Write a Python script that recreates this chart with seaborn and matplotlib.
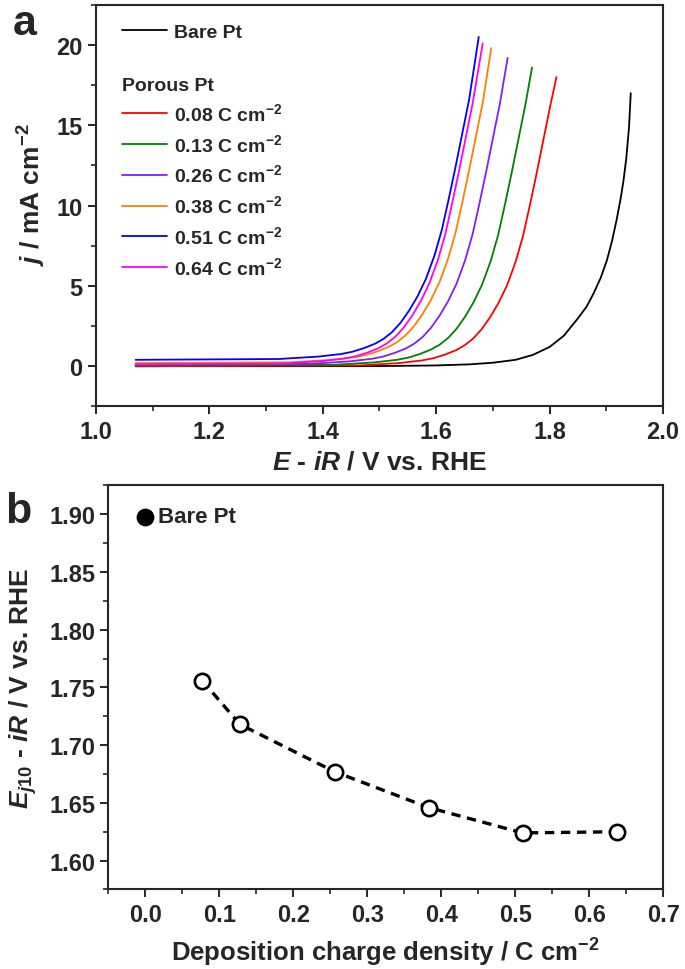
import numpy as np
import pandas as pd
import matplotlib
matplotlib.use("Agg")
import matplotlib.pyplot as plt
from matplotlib.lines import Line2D
from matplotlib.ticker import MultipleLocator, FormatStrFormatter
import seaborn as sns

# --- panel a: polarisation curves ---
e_bare = [1.07, 1.50, 1.60, 1.66, 1.70, 1.74, 1.77, 1.80, 1.825, 1.848, 1.865, 1.877,
          1.890, 1.901, 1.910, 1.918, 1.925, 1.930, 1.935, 1.940, 1.943]
j_bare = [0.0, 0.01, 0.05, 0.12, 0.22, 0.4, 0.7, 1.2, 1.9, 2.9, 3.7, 4.5,
          5.5, 6.6, 7.8, 9.1, 10.4, 11.5, 12.9, 14.9, 17.0]

e_008 = [1.07, 1.465, 1.535, 1.575, 1.595, 1.615, 1.635, 1.650, 1.665, 1.680, 1.695,
         1.710, 1.725, 1.740, 1.753, 1.765, 1.777, 1.789, 1.801, 1.812]
j_008 = [0.0, 0.05, 0.20, 0.36, 0.50, 0.72, 1.00, 1.30, 1.72, 2.30, 3.05,
         3.95, 5.05, 6.50, 8.10, 10.0, 12.0, 14.1, 16.2, 18.0]

e_013 = [1.07, 1.421, 1.491, 1.531, 1.551, 1.571, 1.591, 1.606, 1.621, 1.636, 1.651,
         1.666, 1.681, 1.696, 1.709, 1.721, 1.733, 1.745, 1.757, 1.769]
j_013 = [0.04, 0.09, 0.24, 0.40, 0.54, 0.76, 1.04, 1.34, 1.76, 2.34, 3.09,
         3.99, 5.09, 6.54, 8.14, 10.04, 12.04, 14.14, 16.24, 18.6]

e_026 = [1.07, 1.376, 1.446, 1.486, 1.506, 1.526, 1.546, 1.561, 1.576, 1.591, 1.606,
         1.621, 1.636, 1.651, 1.664, 1.676, 1.688, 1.700, 1.712, 1.726]
j_026 = [0.1, 0.15, 0.30, 0.46, 0.60, 0.82, 1.10, 1.40, 1.82, 2.40, 3.15,
         4.05, 5.15, 6.60, 8.20, 10.1, 12.1, 14.2, 16.3, 19.2]

e_038 = [1.07, 1.346, 1.416, 1.456, 1.476, 1.496, 1.516, 1.531, 1.546, 1.561, 1.576,
         1.591, 1.606, 1.621, 1.634, 1.646, 1.658, 1.670, 1.682, 1.697]
j_038 = [0.2, 0.25, 0.40, 0.56, 0.70, 0.92, 1.20, 1.50, 1.92, 2.50, 3.25,
         4.15, 5.25, 6.70, 8.30, 10.2, 12.2, 14.3, 16.4, 19.8]

e_051 = [1.07, 1.322, 1.392, 1.432, 1.452, 1.472, 1.492, 1.507, 1.522, 1.537, 1.552,
         1.567, 1.582, 1.597, 1.610, 1.622, 1.634, 1.646, 1.658, 1.675]
j_051 = [0.4, 0.45, 0.60, 0.76, 0.90, 1.12, 1.40, 1.70, 2.12, 2.70, 3.45,
         4.35, 5.45, 6.90, 8.50, 10.4, 12.4, 14.5, 16.6, 20.5]

e_064 = [1.07, 1.328, 1.398, 1.438, 1.458, 1.478, 1.498, 1.513, 1.528, 1.543, 1.558,
         1.573, 1.588, 1.603, 1.616, 1.628, 1.640, 1.652, 1.664, 1.682]
j_064 = [0.12, 0.17, 0.32, 0.48, 0.62, 0.84, 1.12, 1.42, 1.84, 2.42, 3.17,
         4.07, 5.17, 6.62, 8.22, 10.12, 12.12, 14.22, 16.32, 20.1]

porous_labels = ["0.08", "0.13", "0.26", "0.38", "0.51", "0.64"]
porous_colors = ["#ff0000", "#008000", "#7f1fff", "#ff8000", "#0000ff", "#ff00ff"]

# --- panel b: E at 10 mA cm-2 ---
charge = [0.077, 0.128, 0.256, 0.383, 0.510, 0.638]
e_j10 = [1.756, 1.718, 1.677, 1.646, 1.624, 1.625]
bare_charge = [0.0]
bare_e_j10 = [1.898]

sns.set_style("ticks")
plt.rcParams["font.family"] = ["Liberation Sans", "DejaVu Sans"]
plt.rcParams["font.weight"] = "bold"
plt.rcParams["mathtext.fontset"] = "custom"
plt.rcParams["mathtext.rm"] = "Liberation Sans:bold"
plt.rcParams["mathtext.bf"] = "Liberation Sans:bold"
plt.rcParams["mathtext.it"] = "Liberation Sans:italic:bold"
plt.rcParams["axes.linewidth"] = 1.5

curves = [("Bare Pt", e_bare, j_bare)]
for lab, e, j in zip(porous_labels, [e_008, e_013, e_026, e_038, e_051, e_064],
                     [j_008, j_013, j_026, j_038, j_051, j_064]):
    curves.append((lab, e, j))
df = pd.concat([pd.DataFrame({"E": e, "j": j, "sample": s}) for s, e, j in curves],
               ignore_index=True)
palette = dict(zip(["Bare Pt"] + porous_labels, ["black"] + porous_colors))

fig = plt.figure(figsize=(6.85, 9.7), dpi=100)
ax1 = fig.add_axes([0.140, 0.580, 0.828, 0.414])
ax2 = fig.add_axes([0.158, 0.082, 0.810, 0.4165])

sns.lineplot(data=df, x="E", y="j", hue="sample", palette=palette, sort=False,
             estimator=None, linewidth=1.3, legend=False, ax=ax1)
ax1.set_xlim(1.0, 2.0)
ax1.set_ylim(-2.5, 22.5)
ax1.xaxis.set_major_locator(MultipleLocator(0.2))
ax1.xaxis.set_minor_locator(MultipleLocator(0.1))
ax1.yaxis.set_major_locator(MultipleLocator(5))
ax1.yaxis.set_minor_locator(MultipleLocator(2.5))
ax1.set_xlabel("$E$ - $iR$ / V vs. RHE", fontsize=19, fontweight="bold", labelpad=5)
ax1.set_ylabel("$j$ / mA cm$^{-2}$", fontsize=19, fontweight="bold")
ax1.yaxis.set_label_coords(-0.085, 0.53)

legend_font = {"size": 14, "weight": "bold"}
h_bare = [Line2D([], [], color="black", lw=1.3)]
leg1 = ax1.legend(h_bare, ["Bare Pt"], loc="upper left", bbox_to_anchor=(0.046, 0.955),
                  frameon=False, borderpad=0, borderaxespad=0, handlelength=2.3,
                  handletextpad=0.4, prop=legend_font)
ax1.add_artist(leg1)
ax1.text(0.046, 0.800, "Porous Pt", transform=ax1.transAxes, fontsize=14,
         fontweight="bold", va="center", ha="left")
h_por = [Line2D([], [], color=c, lw=1.3) for c in porous_colors]
leg2 = ax1.legend(h_por, [f"{l} C cm$^{{-2}}$" for l in porous_labels], loc="upper left",
                  bbox_to_anchor=(0.046, 0.758), frameon=False, borderpad=0,
                  borderaxespad=0, handlelength=2.3, handletextpad=0.4, labelspacing=0.46,
                  prop=legend_font)

sns.lineplot(x=charge, y=e_j10, ax=ax2, color="black", linestyle=(0, (2.8, 2.0)),
             linewidth=2.4, marker="o", markersize=11, markerfacecolor="white",
             markeredgecolor="black", markeredgewidth=1.9, sort=False, estimator=None)
sns.scatterplot(x=bare_charge, y=bare_e_j10, ax=ax2, color="black", s=140,
                edgecolor="black", zorder=3)
ax2.text(0.017, bare_e_j10[0], "Bare Pt", fontsize=16, fontweight="bold", va="center")
ax2.set_xlim(-0.05, 0.7)
ax2.set_ylim(1.575, 1.925)
ax2.xaxis.set_major_locator(MultipleLocator(0.1))
ax2.xaxis.set_minor_locator(MultipleLocator(0.05))
ax2.yaxis.set_major_locator(MultipleLocator(0.05))
ax2.yaxis.set_minor_locator(MultipleLocator(0.025))
ax2.set_xlabel("Deposition charge density / C cm$^{-2}$", fontsize=18.5, fontweight="bold",
               labelpad=7)
ax2.set_ylabel("$E_{\\mathit{j10}}$ - $iR$ / V vs. RHE", fontsize=19, fontweight="bold")
ax2.yaxis.set_label_coords(-0.125, 0.5)

for ax in (ax1, ax2):
    for sp in ax.spines.values():
        sp.set_visible(True)
        sp.set_linewidth(1.5)
    ax.tick_params(which="major", direction="out", length=6, width=1.4, labelsize=17)
    ax.tick_params(which="minor", direction="out", length=3.5, width=1.2)
    for t in ax.get_xticklabels() + ax.get_yticklabels():
        t.set_fontweight("bold")

ax2.yaxis.set_major_formatter(FormatStrFormatter("%.2f"))
ax2.xaxis.set_major_formatter(FormatStrFormatter("%.1f"))
ax1.xaxis.set_major_formatter(FormatStrFormatter("%.1f"))

fig.text(0.019, 0.964, "a", fontsize=31, fontweight="bold")
fig.text(0.007, 0.461, "b", fontsize=31, fontweight="bold")

fig.savefig("out.png", dpi=100)
